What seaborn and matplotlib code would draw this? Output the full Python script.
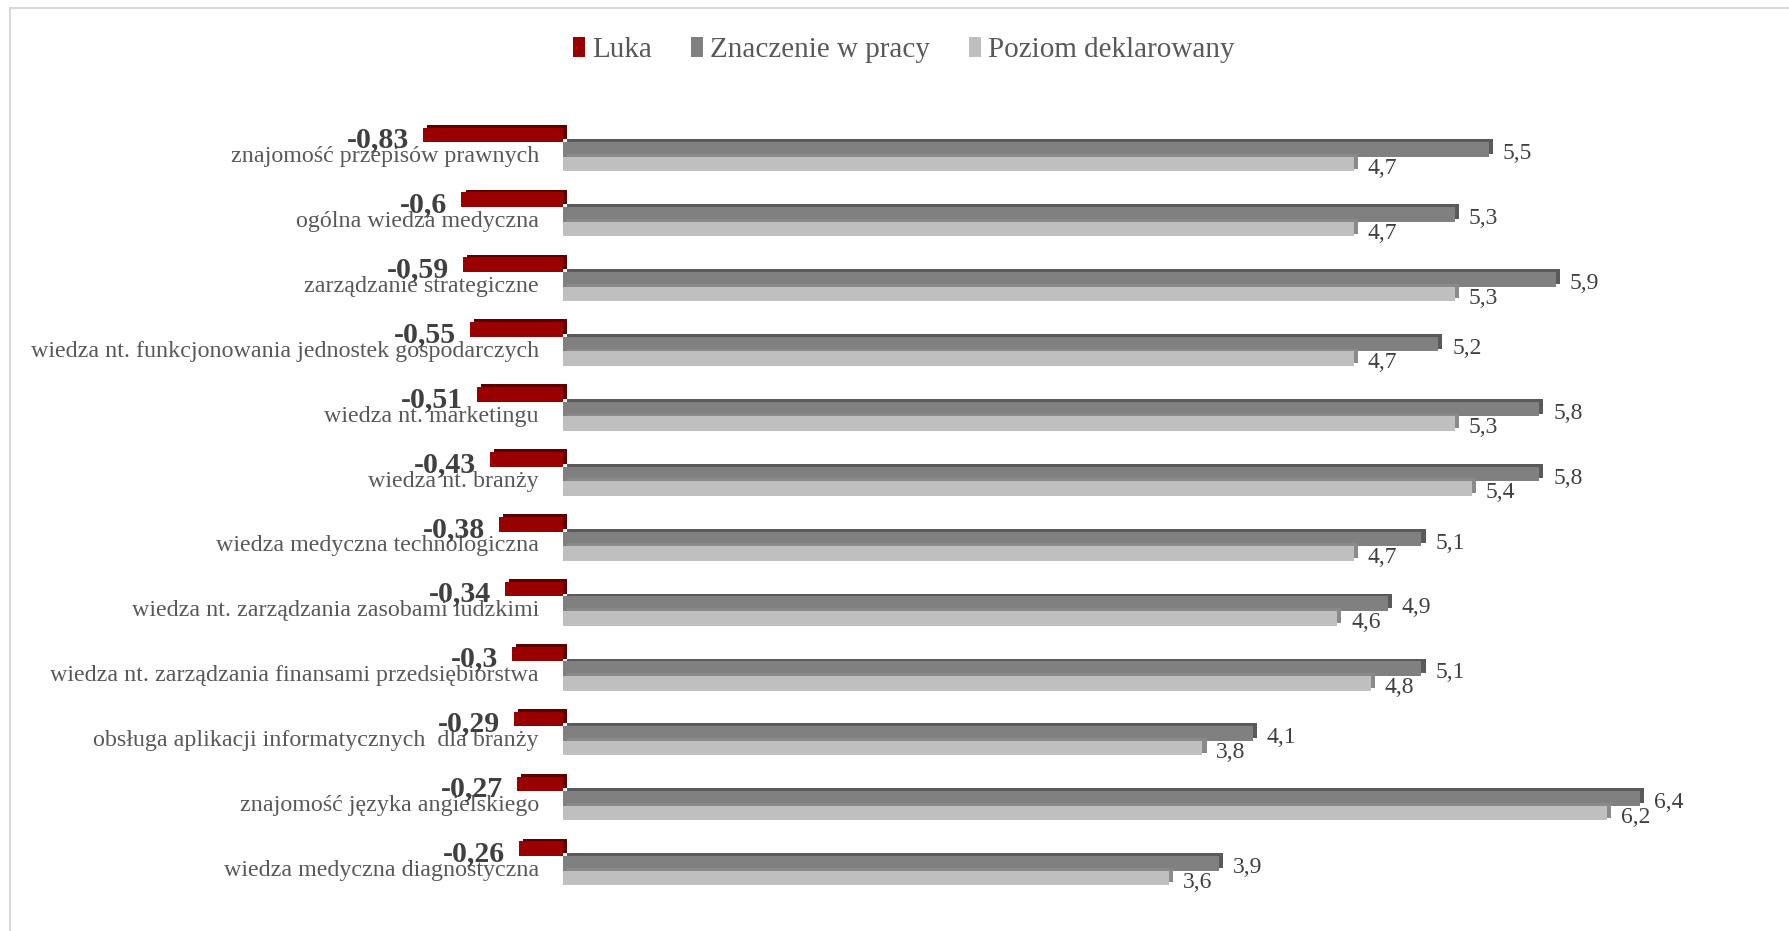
import matplotlib
matplotlib.use("Agg")
import matplotlib.pyplot as plt
import matplotlib.patheffects as pe
from matplotlib.patches import Rectangle, Patch
import seaborn as sns
import pandas as pd

categories = [
    "znajomość przepisów prawnych",
    "ogólna wiedza medyczna",
    "zarządzanie strategiczne",
    "wiedza nt. funkcjonowania jednostek gospodarczych",
    "wiedza nt. marketingu",
    "wiedza nt. branży",
    "wiedza medyczna technologiczna",
    "wiedza nt. zarządzania zasobami ludzkimi",
    "wiedza nt. zarządzania finansami przedsiębiorstwa",
    "obsługa aplikacji informatycznych  dla branży",
    "znajomość języka angielskiego",
    "wiedza medyczna diagnostyczna",
]
luka = [-0.83, -0.6, -0.59, -0.55, -0.51, -0.43, -0.38, -0.34, -0.3, -0.29, -0.27, -0.26]
znaczenie = [5.5, 5.3, 5.9, 5.2, 5.8, 5.8, 5.1, 4.9, 5.1, 4.1, 6.4, 3.9]
poziom = [4.7, 4.7, 5.3, 4.7, 5.3, 5.4, 4.7, 4.6, 4.8, 3.8, 6.2, 3.6]
series_names = ["Luka", "Znaczenie w pracy", "Poziom deklarowany"]

colors = ["#990000", "#808080", "#bfbfbf"]
shadow_colors = ["#5e0000", "#5a5a5a", "#8a8a8a"]

rows = []
for name, vals in zip(series_names, [luka, znaczenie, poziom]):
    for c, v in zip(categories, vals):
        rows.append({"category": c, "series": name, "value": v})
df = pd.DataFrame(rows)

sns.set_style("white")
plt.rcParams["font.family"] = ["Liberation Serif", "DejaVu Serif"]

fig = plt.figure(figsize=(17.89, 9.31), dpi=100)
ax = fig.add_axes([0.0038, 0.0169, 0.9884, 0.8783])

sns.barplot(data=df, y="category", x="value", hue="series", hue_order=series_names,
            order=categories, palette=colors, orient="h", width=0.675, saturation=1,
            ax=ax, legend=False, errorbar=None)

for cont, sc in zip(ax.containers, shadow_colors):
    for p in cont.patches:
        p.set_edgecolor("none")
        p.set_path_effects([pe.SimplePatchShadow(offset=(3, 2), shadow_rgbFace=sc, alpha=1.0),
                            pe.Normal()])

ax.set_xlim(-3.3, 7.2)
ax.set_ylim(11.8, -0.8)

def fmt(v):
    return f"{v:g}".replace(".", ",")

# value labels
for i, cont in enumerate(ax.containers):
    vals = [luka, znaczenie, poziom][i]
    for p, v in zip(cont.patches, vals):
        yc = p.get_y() + p.get_height() / 2
        if i == 0:
            ax.annotate(fmt(v), xy=(v, yc), xytext=(-10, -3.5), textcoords="offset points",
                        ha="right", va="center", fontsize=21.5, fontweight="bold",
                        color="#404040")
        else:
            ax.annotate(fmt(v), xy=(v, yc), xytext=(10, -3), textcoords="offset points",
                        ha="left", va="center", fontsize=17, color="#404040")

# category labels at the zero line
ax.spines["left"].set_position(("data", 0))
for s in ax.spines.values():
    s.set_visible(False)
ax.set_yticks([i + 0.07 for i in range(len(categories))], labels=categories)
ax.tick_params(axis="y", length=0, pad=17, labelsize=17.3, labelcolor="#595959")
ax.set_ylim(11.8, -0.8)
ax.set_ylabel("")
ax.set_xlabel("")
ax.set_xticks([])

handles = [Patch(facecolor=c, edgecolor="none") for c in colors]
fig.legend(handles, series_names, loc="center", bbox_to_anchor=(904 / 1789, 0.946),
           ncol=3, frameon=False, handlelength=0.4, handleheight=0.65,
           handletextpad=0.25, columnspacing=1.35, fontsize=21, labelcolor="#595959")

fig.patches.append(Rectangle((10 / 1789, -0.02), 1.0, 1 - 8 / 931 + 0.02,
                             transform=fig.transFigure, fill=False,
                             edgecolor="#d9d9d9", linewidth=1.5))

fig.savefig("out.png", dpi=100)
